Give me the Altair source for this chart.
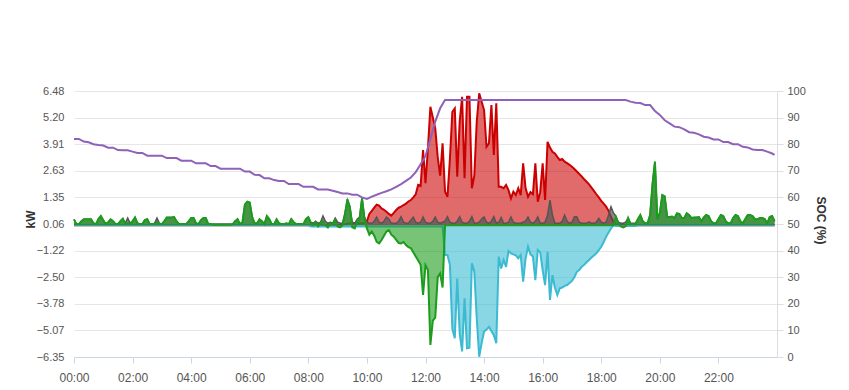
import altair as alt
import pandas as pd

# ---- data: 5-minute samples 00:00 .. 23:55 (one row per hour) ----
solar = [
    0, 0, 0, 0, 0, 0, 0, 0, 0, 0, 0, 0,
    0, 0, 0, 0, 0, 0, 0, 0, 0, 0, 0, 0,
    0, 0, 0, 0, 0, 0, 0, 0, 0, 0, 0, 0,
    0, 0, 0, 0, 0, 0, 0, 0, 0, 0, 0, 0,
    0, 0, 0, 0, 0, 0, 0, 0, 0, 0, 0, 0,
    0, 0, 0, 0, 0, 0, 0, 0, 0, 0, 0, 0,
    0, 0, 0, 0, 0, 0, 0, 0, 0, 0, 0, 0,
    0, 0, 0, 0, 0, 0, 0, 0, 0, 0, 0, 0,
    0, 0, 0, 0, 0, 0, 0, 0, 0, 0, 0, 0,
    0, 0, 0.05, 0.05, 0.08, 0.1, 0.1, 0.1, 0.1, 0.1, 0.1, 0.1,
    0.2, 0.55, 0.7, 0.85, 1.0, 0.95, 0.82, 0.75, 0.66, 0.55, 0.47, 0.6,
    0.74, 0.85, 0.9, 0.98, 1.05, 1.15, 1.22, 1.35, 1.5, 1.95, 1.9, 3.63,
    2.03, 3.72, 5.72, 5.2, 4.68, 3.3, 2.4, 3.96, 1.63, 1.38, 3.2, 5.48,
    5.64, 2.35, 5.0, 6.2, 2.27, 6.2, 6.2, 1.79, 2.4, 5.0, 6.37, 5.96,
    5.56, 3.79, 3.96, 5.8, 3.39, 5.89, 1.86, 1.86, 1.79, 1.95, 1.7, 1.3,
    1.63, 1.46, 1.79, 1.46, 2.99, 1.8, 1.38, 1.6, 1.5, 2.99, 1.14, 1.6,
    2.99, 1.22, 4.03, 3.75, 3.55, 3.47, 3.3, 3.15, 3.2, 3.07, 3.0, 2.92,
    2.83, 2.72, 2.6, 2.48, 2.36, 2.22, 2.1, 1.98, 1.82, 1.66, 1.5, 1.35,
    1.18, 1.05, 0.9, 0.7, 0.4, 0.18, 0.05, 0, 0, 0, 0, 0,
    0, 0, 0, 0, 0, 0, 0, 0, 0, 0, 0, 0,
    0, 0, 0, 0, 0, 0, 0, 0, 0, 0, 0, 0,
    0, 0, 0, 0, 0, 0, 0, 0, 0, 0, 0, 0,
    0, 0, 0, 0, 0, 0, 0, 0, 0, 0, 0, 0,
    0, 0, 0, 0, 0, 0, 0, 0, 0, 0, 0, 0,
]

grid_export = [
    0, 0, 0, 0, 0, 0, 0, 0, 0, 0, 0, 0,
    0, 0, 0, 0, 0, 0, 0, 0, 0, 0, 0, 0,
    0, 0, 0, 0, 0, 0, 0, 0, 0, 0, 0, 0,
    0, 0, 0, 0, 0, 0, 0, 0, 0, 0, 0, 0,
    0, 0, 0, 0, 0, 0, 0, 0, 0, 0, 0, 0,
    0, 0, 0, 0, 0, 0, 0, 0, 0, 0, 0, 0,
    0, 0, 0, 0, 0, 0, 0, 0, 0, 0, 0, 0,
    0, 0, 0, 0, 0, 0, 0, 0, 0, 0, 0, 0,
    0, -0.05, -0.05, -0.05, -0.05, -0.05, -0.05, -0.05, -0.05, -0.05, -0.05, -0.05,
    -0.05, -0.05, -0.05, -0.05, -0.05, -0.05, -0.05, -0.05, -0.05, -0.05, -0.05, -0.05,
    -0.05, -0.05, -0.05, -0.05, -0.05, -0.05, -0.05, -0.05, -0.05, -0.05, -0.05, -0.05,
    -0.05, -0.05, -0.05, -0.05, -0.05, -0.05, -0.05, -0.05, -0.05, -0.05, -0.05, -0.05,
    -0.05, -0.05, -0.05, -0.05, -0.05, -0.05, -0.05, -0.05, -1.43, -1.43, -1.9, -5.0,
    -5.44, -2.56, -5.2, -6.08, -3.52, -5.93, -5.9, -1.83, -2.24, -4.5, -6.34, -5.68,
    -5.12, -5.03, -4.9, -5.1, -5.3, -5.68, -1.51, -2.08, -1.67, -2.0, -1.24, -1.35,
    -1.4, -1.45, -1.59, -1.43, -2.72, -1.6, -1.03, -1.4, -1.5, -2.64, -1.19, -1.3,
    -2.16, -2.88, -1.27, -3.6, -2.4, -3.0, -3.36, -3.04, -3.0, -2.92, -2.88, -2.78,
    -2.68, -2.5, -2.24, -2.15, -2.0, -1.9, -1.78, -1.67, -1.55, -1.45, -1.35, -1.2,
    -1.03, -0.8, -0.55, -0.35, -0.15, 0, -0.03, -0.03, -0.03, -0.03, -0.03, -0.03,
    -0.03, -0.03, -0.03, 0, 0, 0, 0, 0, 0, 0, 0, 0,
    0, 0, 0, 0, 0, 0, 0, 0, 0, 0, 0, 0,
    0, 0, 0, 0, 0, 0, 0, 0, 0, 0, 0, 0,
    0, 0, 0, 0, 0, 0, 0, 0, 0, 0, 0, 0,
    0, 0, 0, 0, 0, 0, 0, 0, 0, 0, 0, 0,
]

battery = [
    0.29, 0.06, 0.06, 0.2, 0.29, 0.29, 0.29, 0.29, 0.1, 0.06, 0.3, 0.45,
    0.25, 0.06, 0.15, 0.29, 0.2, 0.06, 0.06, 0.2, 0.32, 0.06, 0.1, 0.06,
    0.2, 0.38, 0.1, 0.06, 0.06, 0.25, 0.3, 0.06, 0.06, 0.06, 0.15, 0.06,
    0.06, 0.2, 0.38, 0.38, 0.38, 0.4, 0.2, 0.06, 0.06, 0.06, 0.06, 0.2,
    0.35, 0.35, 0.1, 0.06, 0.25, 0.35, 0.35, 0.06, 0.06, 0.03, 0.03, 0.03,
    0.03, 0.03, 0.03, 0.03, 0.03, 0.05, 0.2, 0.3, 0.06, 0.15, 1.0, 1.14,
    1.1, 0.4, 0.1, 0.1, 0.29, 0.2, 0.06, 0.45, 0.3, 0.06, 0.06, 0.29,
    0.1, 0.06, 0.06, 0.1, 0.06, 0.3, 0.15, 0.06, 0.06, 0.06, 0.06, 0.3,
    0.4, 0.1, 0.0, 0.15, -0.05, 0.1, 0.2, 0.0, -0.1, 0.1, 0.05, 0.25,
    -0.05, -0.1, 0.0, 0.5, 1.26, 0.9, -0.1, -0.15, 0.2, 0.3, 1.3, 0.3,
    -0.15, -0.45, -0.3, -0.5, -0.8, -0.87, -0.71, -0.5, -0.3, -0.23, -0.45, -0.55,
    -0.7, -0.85, -0.87, -0.8, -0.95, -1.05, -1.1, -1.3, -1.5, -1.7, -1.9, -3.36,
    -1.92, -2.16, -5.77, -4.6, -4.45, -2.5, -2.32, -3.0, 0, 0, 0, 0,
    0, 0, 0, 0, 0, 0, 0, 0, 0, 0, 0, 0,
    0, 0, 0, 0, 0, 0, 0, 0, 0, 0, 0, 0,
    0, 0, 0, 0, 0, 0, 0, 0, 0, 0, 0, 0,
    0, 0, 0, 0, 0, 0, 0, 0, 0, 0, 0, 0,
    0, 0, 0, 0, 0, 0, 0, 0, 0, 0, 0, 0,
    0, 0, 0, 0, 0, 0, 0.4, 0.1, -0.05, -0.1, -0.05, 0.35,
    0.05, 0.05, 0.05, 0.3, 0.5, 0.2, 0.1, 0.1, 0.5, 2.0, 3.07, 0.3,
    0.6, 1.46, 1.4, 0.42, 0.4, 0.42, 0.35, 0.58, 0.55, 0.35, 0.35, 0.58,
    0.5, 0.35, 0.38, 0.38, 0.4, 0.2, 0.38, 0.5, 0.45, 0.2, 0.1, 0.1,
    0.3, 0.5, 0.45, 0.2, 0.1, 0.1, 0.35, 0.5, 0.45, 0.2, 0.1, 0.3,
    0.5, 0.5, 0.45, 0.3, 0.3, 0.35, 0.35, 0.3, 0.1, 0.4, 0.45, 0.2,
]

load = [
    0.29, 0.06, 0.06, 0.2, 0.29, 0.29, 0.29, 0.29, 0.1, 0.06, 0.3, 0.45,
    0.25, 0.06, 0.15, 0.29, 0.2, 0.06, 0.06, 0.2, 0.32, 0.1, 0.35, 0.1,
    0.2, 0.38, 0.1, 0.06, 0.06, 0.25, 0.3, 0.06, 0.06, 0.1, 0.35, 0.1,
    0.06, 0.2, 0.38, 0.38, 0.38, 0.4, 0.2, 0.06, 0.06, 0.06, 0.06, 0.2,
    0.35, 0.35, 0.1, 0.06, 0.25, 0.35, 0.35, 0.06, 0.06, 0.06, 0.06, 0.06,
    0.06, 0.06, 0.06, 0.06, 0.06, 0.06, 0.2, 0.3, 0.06, 0.15, 1.0, 1.14,
    1.1, 0.4, 0.1, 0.1, 0.29, 0.2, 0.06, 0.45, 0.3, 0.06, 0.06, 0.29,
    0.1, 0.06, 0.06, 0.1, 0.06, 0.3, 0.15, 0.06, 0.06, 0.06, 0.06, 0.3,
    0.4, 0.15, 0.1, 0.2, 0.1, 0.15, 0.45, 0.2, 0.1, 0.15, 0.1, 0.35,
    0.15, 0.1, 0.1, 0.6, 1.22, 0.9, 0.15, 0.1, 0.3, 0.4, 1.33, 0.4,
    0.15, 0.1, 0.1, 0.2, 0.4, 0.15, 0.1, 0.2, 0.4, 0.3, 0.1, 0.1,
    0.1, 0.2, 0.42, 0.15, 0.1, 0.1, 0.25, 0.4, 0.15, 0.1, 0.15, 0.4,
    0.15, 0.1, 0.1, 0.2, 0.4, 0.15, 0.1, 0.15, 0.2, 0.42, 0.15, 0.1,
    0.1, 0.2, 0.42, 0.15, 0.1, 0.1, 0.2, 0.42, 0.1, 0.1, 0.15, 0.3,
    0.4, 0.15, 0.1, 0.2, 0.42, 0.1, 0.15, 0.38, 0.1, 0.1, 0.15, 0.4,
    0.15, 0.1, 0.1, 0.1, 0.15, 0.2, 0.4, 0.15, 0.1, 0.2, 0.4, 0.1,
    0.1, 0.15, 0.5, 1.22, 0.5, 0.1, 0.1, 0.1, 0.2, 0.5, 0.2, 0.1,
    0.15, 0.42, 0.42, 0.15, 0.1, 0.1, 0.1, 0.17, 0.1, 0.1, 0.15, 0.34,
    0.15, 0.1, 0.15, 0.5, 0.9, 0.6, 0.45, 0.15, 0.1, 0.1, 0.15, 0.35,
    0.1, 0.1, 0.1, 0.3, 0.5, 0.2, 0.1, 0.1, 0.5, 2.0, 3.07, 0.3,
    0.6, 1.46, 1.4, 0.42, 0.4, 0.42, 0.35, 0.58, 0.55, 0.35, 0.35, 0.58,
    0.5, 0.35, 0.38, 0.38, 0.4, 0.2, 0.38, 0.5, 0.45, 0.2, 0.1, 0.1,
    0.3, 0.5, 0.45, 0.2, 0.1, 0.1, 0.35, 0.5, 0.45, 0.2, 0.1, 0.3,
    0.5, 0.5, 0.45, 0.3, 0.3, 0.35, 0.35, 0.3, 0.1, 0.4, 0.45, 0.2,
]

# SOC (%) every 10 minutes, last sample at 23:55
soc = [
    82, 82, 81, 80.7, 80, 79.7, 79.5, 78.7, 78.7, 77.8, 77.7, 77.7,
    77.2, 76.7, 76.7, 75.7, 75.7, 75.7, 75.7, 74.8, 74.8, 74.8, 73.8, 73.8,
    73.8, 72.8, 72.8, 72.8, 71.8, 71.8, 70.8, 70.8, 70.8, 70.8, 70.8, 69.7,
    69.7, 68.5, 68.4, 67.2, 67.2, 66.5, 66.2, 66.2, 65, 65, 65, 64,
    64, 64, 63, 63, 63, 62.5, 62, 61.5, 61.5, 61, 61, 60,
    59.4, 60.3, 61, 61.7, 62.3, 63, 64, 65, 66.2, 67.5, 69.5, 72.5,
    75.5, 82, 88.5, 93.5, 96.6, 96.6, 96.6, 96.6, 96.6, 96.6, 96.6, 96.6,
    96.6, 96.6, 96.6, 96.6, 96.6, 96.6, 96.6, 96.6, 96.6, 96.6, 96.6, 96.6,
    96.6, 96.6, 96.6, 96.6, 96.6, 96.6, 96.6, 96.6, 96.6, 96.6, 96.6, 96.6,
    96.6, 96.6, 96.6, 96.6, 96.6, 96.6, 96.0, 95.6, 95.5, 94.7, 94.7, 92.5,
    91, 89, 87.8, 86.6, 86.4, 85.6, 84.5, 84.3, 83.7, 82.8, 82.5, 81.8,
    81.8, 80.8, 80.8, 80, 80, 79, 78.8, 78, 77.8, 77.8, 77.2, 76.5,
    76,
]

minutes = list(range(0, 1440, 5))
soc_minutes = list(range(0, 1440, 10)) + [1435]

kw_ticks = [6.48, 5.20, 3.91, 2.63, 1.35, 0.06, -1.22, -2.50, -3.78, -5.07, -6.35]
soc_ticks = [0, 10, 20, 30, 40, 50, 60, 70, 80, 90, 100]
hour_ticks = [0, 120, 240, 360, 480, 600, 720, 840, 960, 1080, 1200, 1320]

assert len(solar) == len(load) == len(battery) == len(grid_export) == len(minutes)
assert len(soc) == len(soc_minutes)

df = pd.DataFrame({"t": minutes, "solar": solar, "load": load,
                   "battery": battery, "grid": grid_export})
sdf = pd.DataFrame({"t": soc_minutes, "soc": soc})

FONT = "Arial"
AXIS_LINE = "#ccd6eb"
LABEL = "#555555"

x_enc = alt.X(
    "t:Q",
    scale=alt.Scale(domain=[0, 1440], nice=False, zero=False),
    axis=alt.Axis(
        values=hour_ticks,
        labelExpr="(datum.value < 600 ? '0' : '') + floor(datum.value / 60) + ':00'",
        grid=False, domain=True, domainColor=AXIS_LINE, tickColor=AXIS_LINE,
        tickSize=6, labelPadding=9, labelFontSize=12, labelColor=LABEL,
        labelFont=FONT, labelFlush=False, title="",
    ),
)


def y_kw(field):
    return alt.Y(
        f"{field}:Q",
        scale=alt.Scale(domain=[-6.35, 6.48], nice=False, zero=False),
        axis=alt.Axis(
            values=kw_ticks, format=".2f", orient="left", grid=True,
            gridColor="#e6e6e6", domain=False, ticks=False, labelPadding=10,
            labelFontSize=11, labelColor=LABEL, labelFont=FONT, labelFlush=False,
            title="kW", titleFont=FONT, titleFontSize=12, titleFontWeight="bold",
            titleColor="#333333", titleX=-44, titleY=128, titleAngle=270,
            titleAlign="center", titleBaseline="middle",
        ),
    )


def area(field, color, fill_opacity, width):
    return alt.Chart(df).mark_area(
        color=color, opacity=1, fillOpacity=fill_opacity,
        line={"color": color, "strokeWidth": width},
    ).encode(x=x_enc, y=y_kw(field), y2=alt.datum(0))


red = area("solar", "#cc0000", 0.58, 2)
cyan = area("grid", "#3bbad2", 0.6, 2)
gray = area("load", "#555555", 0.7, 1.5)
green = area("battery", "#1c9c1c", 0.6, 2)

kw = alt.layer(red, cyan, gray, green)

soc_line = alt.Chart(sdf).mark_line(color="#9061b8", strokeWidth=2).encode(
    x=x_enc,
    y=alt.Y(
        "soc:Q",
        scale=alt.Scale(domain=[0, 100], nice=False, zero=False),
        axis=alt.Axis(
            values=soc_ticks, orient="right", grid=False, domain=True,
            domainColor="#dddddd", ticks=True, tickColor="#dddddd", tickSize=6,
            labelPadding=4, labelFontSize=11, labelColor=LABEL, labelFont=FONT,
            labelFlush=False, title="SOC (%)", titleFont=FONT, titleFontSize=12,
            titleFontWeight="bold", titleColor="#333333", titleX=43, titleY=129,
            titleAngle=90, titleAlign="center", titleBaseline="middle",
        ),
    ),
)

chart = (
    alt.layer(kw, soc_line)
    .resolve_scale(y="independent")
    .properties(
        width=703, height=266,
        autosize=alt.AutoSizeParams(type="none"),
        padding={"left": 74, "top": 91, "right": 72, "bottom": 33},
        background="white",
    )
    .configure_view(strokeWidth=0)
)

chart.save("out.html", embed_options={"renderer": "svg", "actions": False})
